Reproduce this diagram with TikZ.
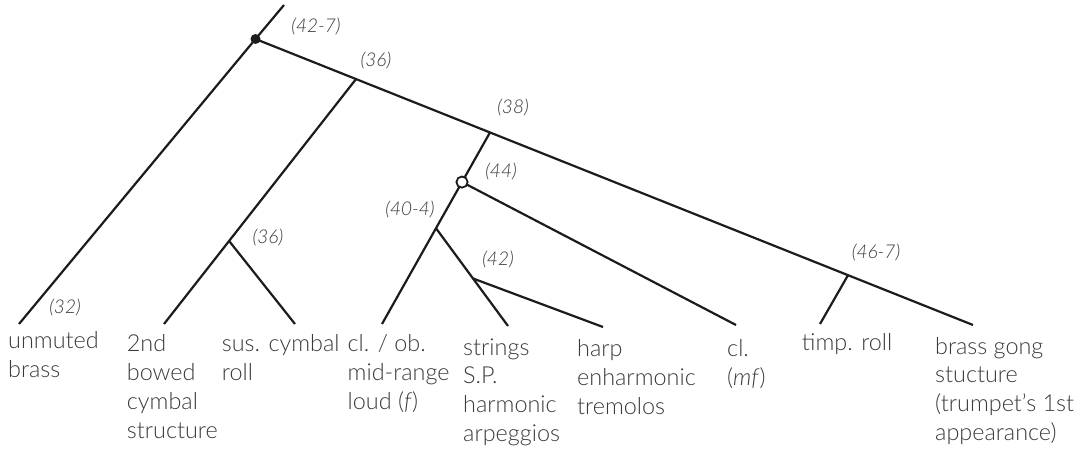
\documentclass[tikz,border=0pt]{standalone}
\usepackage{fontspec}
\setmainfont{Lato}[UprightFont=* Light, ItalicFont=* Light Italic]
\usetikzlibrary{calc}
\definecolor{txt}{HTML}{3A3A3A}
\definecolor{ln}{HTML}{1C1C1C}
\newcommand{\mlines}[1]{\begin{tabular}[t]{@{}l@{}}#1\end{tabular}}
\begin{document}
\begin{tikzpicture}[x=1pt,y=-1pt,
  branch/.style={draw=ln,line width=2.2pt},
  leaf/.style={anchor=base west,inner sep=0pt,text=txt,font=\fontsize{23.4}{28.8}\selectfont},
  yr/.style={inner sep=0pt,text=txt,font=\fontsize{19}{22}\selectfont\itshape}]
\useasboundingbox (0,0) rectangle (1081,452);
% coordinates
\coordinate (top) at (284,5);
\coordinate (root) at (255.5,39);
\coordinate (l1) at (19,324);
\coordinate (l2) at (164,324);
\coordinate (l3) at (295,324);
\coordinate (l4) at (382,324);
\coordinate (l5) at (508,326);
\coordinate (l6) at (603,327);
\coordinate (l7) at (736,325);
\coordinate (l8) at (820,324);
\coordinate (l9) at (973,325);
\coordinate (b36) at ($(root)!0.1401!(l9)$);
\coordinate (b38) at ($(root)!0.3268!(l9)$);
\coordinate (b46) at ($(root)!0.8258!(l9)$);
\coordinate (c36) at ($(b36)!0.661!(l2)$);
\coordinate (oc) at ($(b38)!0.259!(l4)$);
\coordinate (b40) at ($(b38)!0.5!(l4)$);
\coordinate (b42) at ($(b40)!0.514!(l5)$);
% connectors
\draw[branch] (top) -- (root) -- (l1);
\draw[branch] (root) -- (l9);
\draw[branch] (b36) -- (l2);
\draw[branch] (c36) -- (l3);
\draw[branch] (b38) -- (l4);
\draw[branch] (b40) -- (l5);
\draw[branch] (b42) -- (l6);
\draw[branch] (oc) -- (l7);
\draw[branch] (b46) -- (l8);
% markers
\fill[ln] (root) circle (5pt);
\draw[ln,line width=1.8pt,fill=white] (oc) circle (5.6pt);
% year labels
\node[yr] (y427) at (316,27) {(42-7)};
\node[yr] (y36a) at (376,61) {(36)};
\node[yr] (y38) at (513,108) {(38)};
\node[yr] (y44) at (501,172) {(44)};
\node[yr] (y404) at (410,210) {(40-4)};
\node[yr] (y32) at (65,308) {(32)};
\node[yr] (y36b) at (268,238) {(36)};
\node[yr] (y42) at (498,260) {(42)};
\node[yr] (y467) at (876,253) {(46-7)};
% leaf labels
\node[leaf] (t1) at (8,348.3) {\mlines{unmuted\\brass}};
\node[leaf] (t2) at (126.7,351.7) {\mlines{2nd\\bowed\\cymbal\\structure}};
\node[leaf] (t3) at (221.7,351.7) {\mlines{sus. cymbal\\roll}};
\node[leaf] (t4) at (347.5,351.7) {\mlines{cl. / ob.\\mid-range\\loud (\textit{f})}};
\node[leaf] (t5) at (463,355) {\mlines{strings\\S.P.\\harmonic\\arpeggios}};
\node[leaf] (t6) at (577,356.7) {\mlines{harp\\enharmonic\\tremolos}};
\node[leaf] (t7) at (727,356.7) {\mlines{cl.\\(\textit{mf})}};
\node[leaf] (t8) at (801.7,350.7) {\mlines{timp. roll}};
\node[leaf] (t9) at (935,354) {\mlines{brass gong\\stucture\\(trumpet’s 1st\\appearance)}};
\end{tikzpicture}
\end{document}
